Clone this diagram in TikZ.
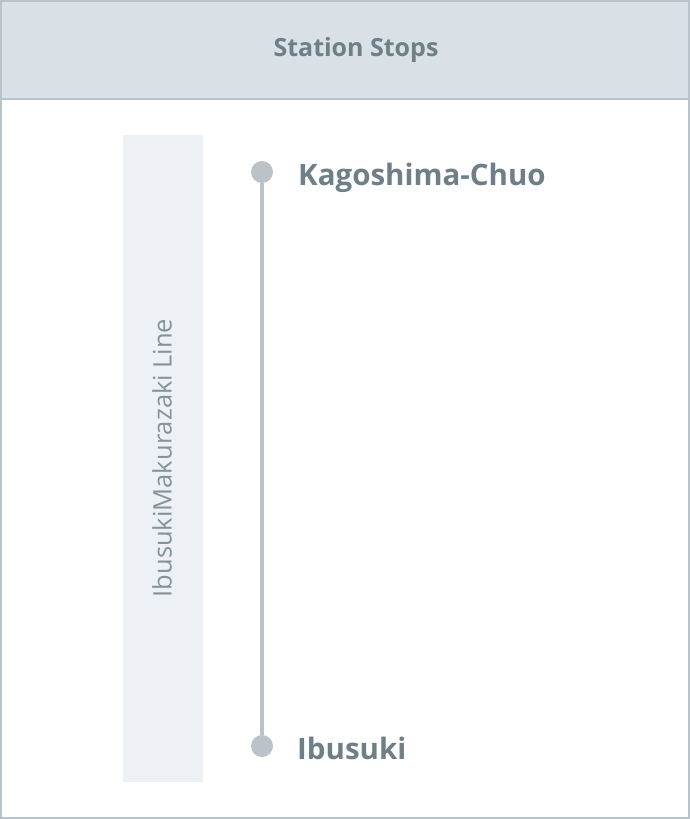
\documentclass[tikz,border=0pt]{standalone}
\usepackage{fontspec}
\setmainfont{Open Sans}
\usetikzlibrary{calc}
\definecolor{HeadFill}{HTML}{D9E0E6}
\definecolor{FrameLine}{HTML}{B9C3CA}
\definecolor{BandFill}{HTML}{EDF1F5}
\definecolor{TrackGray}{HTML}{BBC3C9}
\definecolor{TextGray}{HTML}{6F7F88}
\tikzset{%
	% Style of the station dot
	Stop/.style={circle,fill=TrackGray,inner sep=0, minimum size=22pt},
	% Style of the station label
	StopName/.style={font=\fontsize{29.5}{34}\selectfont\bfseries,TextGray,anchor=west,inner sep=0},
	% Style of the header title
	HeadName/.style={font=\fontsize{25}{29}\selectfont\bfseries,TextGray},
	% Style of the line label
	LineName/.style={font=\fontsize{25.5}{30}\selectfont,TextGray!85,rotate=90},
	% Style of the track
	Track/.style={line width=4pt,TrackGray},
}

\begin{document}
\begin{tikzpicture}[x=1pt,y=-1pt] % STYLES
\useasboundingbox (0,0) rectangle (690,819);

%~~~~~~~~~~~~~~~~~~~~~~~~~~~~~~~~~~~~~~~~~~~~~~~~~~
% Frame and header
%~~~~~~~~~~~~~~~~~~~~~~~~~~~~~~~~~~~~~~~~~~~~~~~~~~
\fill[white] (0,0) rectangle (690,819);
\fill[HeadFill] (0,0) rectangle (690,99);
\draw[FrameLine,line width=2pt] (0,99) -- (690,99);
\draw[FrameLine,line width=2pt] (1,1) rectangle (689,818);
\node[HeadName] (Head) at (356, 50) {Station Stops};

%~~~~~~~~~~~~~~~~~~~~~~~~~~~~~~~~~~~~~~~~~~~~~~~~~~
% Line band
%~~~~~~~~~~~~~~~~~~~~~~~~~~~~~~~~~~~~~~~~~~~~~~~~~~
\fill[BandFill] (123,135) rectangle (203,782);
\node[LineName] (Line) at (162, 458) {IbusukiMakurazaki Line};

%~~~~~~~~~~~~~~~~~~~~~~~~~~~~~~~~~~~~~~~~~~~~~~~~~~
% Set Stops
%~~~~~~~~~~~~~~~~~~~~~~~~~~~~~~~~~~~~~~~~~~~~~~~~~~
\node[Stop] (S1) at (262, 172) {};
\node[StopName] at ($ (S1) + (36, 6) $) {Kagoshima-Chuo};

\node[Stop] (S2) at (262, 746) {};
\node[StopName] at ($ (S2) + (35, 2) $) {Ibusuki};

%~~~~~~~~~~~~~~~~~~~~~~~~~~~~~~~~~~~~~~~~~~~~~~~~~~
% Set Track
%~~~~~~~~~~~~~~~~~~~~~~~~~~~~~~~~~~~~~~~~~~~~~~~~~~
%Track from S1 to S2
\draw[Track] (S1) -- (S2);

\end{tikzpicture}
\end{document}
